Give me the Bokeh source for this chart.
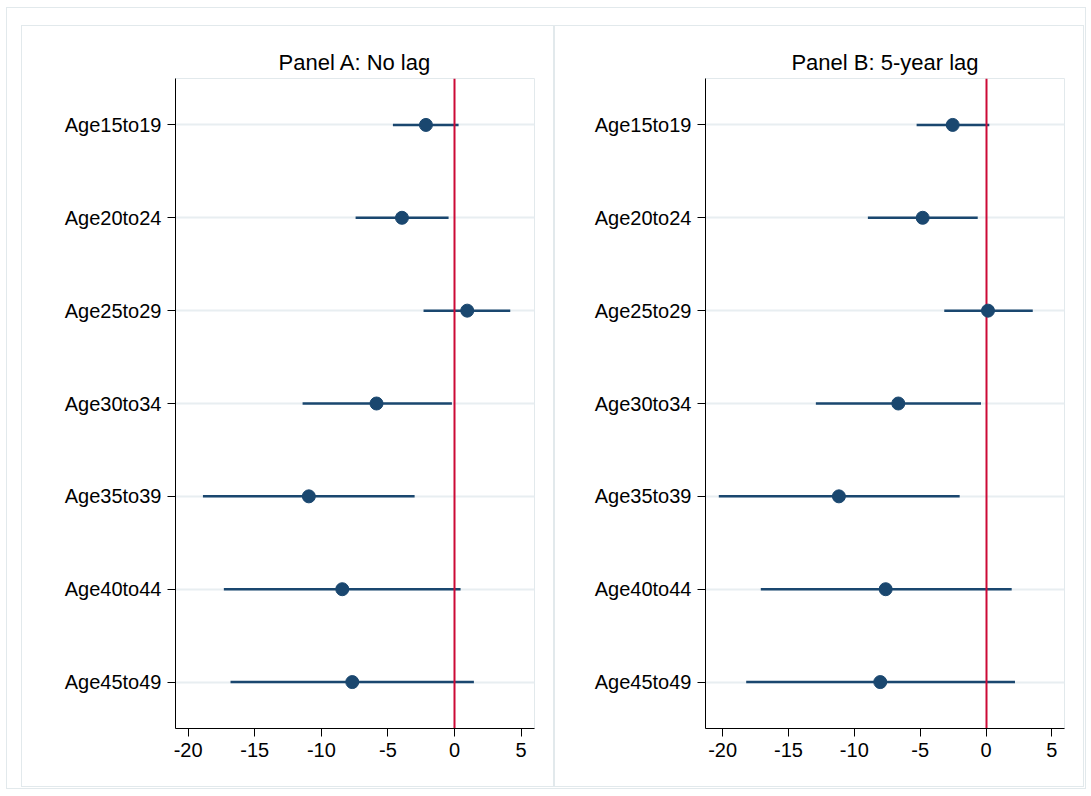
from bokeh.plotting import figure
from bokeh.models import Range1d, FactorRange, FixedTicker, Row
from bokeh.embed import file_html
from bokeh.resources import INLINE

# ---------------- data ----------------
categories = ["Age15to19", "Age20to24", "Age25to29", "Age30to34",
              "Age35to39", "Age40to44", "Age45to49"]

panel_titles = ["Panel A: No lag", "Panel B: 5-year lag"]

a_coef = [-2.15, -3.95, 0.95, -5.86, -10.94, -8.43, -7.68]
a_lo = [-4.63, -7.43, -2.33, -11.41, -18.89, -17.32, -16.82]
a_hi = [0.30, -0.45, 4.18, -0.20, -3.00, 0.45, 1.45]

b_coef = [-2.53, -4.81, 0.15, -6.66, -11.17, -7.62, -8.03]
b_lo = [-5.27, -8.97, -3.17, -12.92, -20.29, -17.10, -18.21]
b_hi = [0.25, -0.63, 3.55, -0.38, -2.00, 1.95, 2.20]

x_ticks = [-20, -15, -10, -5, 0, 5]
x_tick_labels = ["-20", "-15", "-10", "-5", "0", "5"]
ref_value = [0]

FONT = "Liberation Sans"
NAVY = "#1a476f"
RED = "#cc0a36"
GRID = "#e8eef1"
BOX = "#e2e9ec"


def make_panel(title, coef, lo, hi, xr, width, left_border):
    p = figure(width=width, height=762, output_backend="svg", toolbar_location=None,
               x_range=Range1d(*xr), y_range=FactorRange(factors=categories[::-1]),
               min_border_left=left_border, min_border_right=21,
               min_border_top=52, min_border_bottom=60,
               background_fill_color="white", border_fill_color="white",
               outline_line_color=BOX, outline_line_width=1,
               styles={"border": "1px solid " + BOX})
    p.title.text = title
    p.title.align = "center"
    p.title.text_font = FONT
    p.title.text_font_size = "22px"
    p.title.text_font_style = "normal"
    p.title.text_color = "black"
    p.title.standoff = 8

    p.xgrid.grid_line_color = None
    p.ygrid.grid_line_color = GRID
    p.ygrid.grid_line_width = 2

    for ax in (p.xaxis[0], p.yaxis[0]):
        ax.axis_line_color = "black"
        ax.axis_line_width = 1
        ax.major_tick_line_color = "black"
        ax.major_tick_out = 8
        ax.major_tick_in = 0
        ax.minor_tick_line_color = None
        ax.major_label_text_font = FONT
        ax.major_label_text_font_size = "20px"
        ax.major_label_text_color = "black"
    p.xaxis.ticker = FixedTicker(ticks=x_ticks)
    p.xaxis.major_label_overrides = dict(zip(x_ticks, x_tick_labels))
    p.xaxis.major_label_standoff = 6
    p.yaxis.major_label_standoff = 6

    p.segment(x0=lo, x1=hi, y0=categories, y1=categories,
              line_color=NAVY, line_width=2.5)
    p.vspan(x=ref_value, line_color=RED, line_width=2)
    p.scatter(x=coef, y=categories, size=13, fill_color=NAVY, line_color=NAVY)
    return p


pA = make_panel(panel_titles[0], a_coef, a_lo, a_hi, (-20.95, 6.0), 533, 153)
pB = make_panel(panel_titles[1], b_coef, b_lo, b_hi, (-21.3, 5.96), 530, 150)
pA.margin = (17, 0, 0, 14)
pB.margin = (17, 0, 0, 0)

layout = Row(children=[pA, pB], width=1080, height=782, margin=(7, 0, 0, 6),
             styles={"border": "1px solid " + BOX, "background-color": "white"})

open("out.html", "w").write(file_html(layout, INLINE))
